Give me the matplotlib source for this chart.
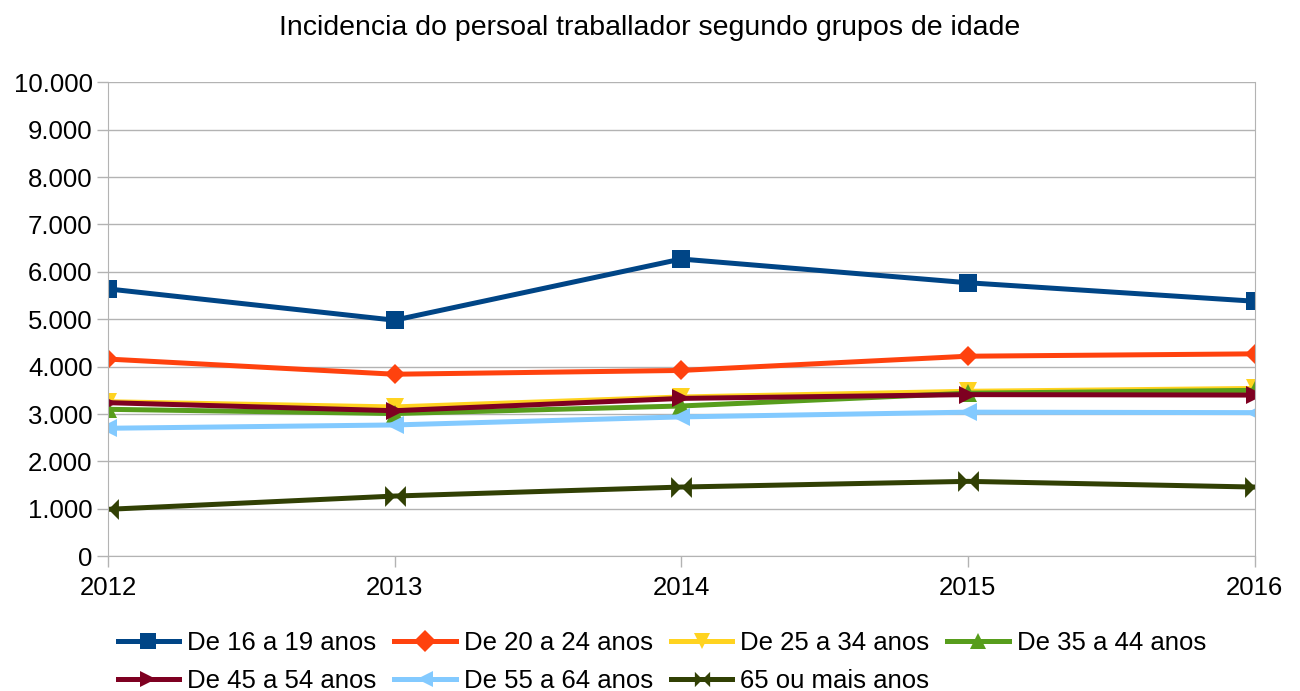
import matplotlib
matplotlib.use("Agg")
import matplotlib.pyplot as plt
from matplotlib.path import Path
from matplotlib.ticker import FuncFormatter, MultipleLocator

plt.rcParams['font.family'] = ['Liberation Sans', 'DejaVu Sans']

years = [2012, 2013, 2014, 2015, 2016]
labels = ["De 16 a 19 anos", "De 20 a 24 anos", "De 25 a 34 anos", "De 35 a 44 anos",
          "De 45 a 54 anos", "De 55 a 64 anos", "65 ou mais anos"]
s16_19 = [5640, 4980, 6270, 5770, 5380]
s20_24 = [4160, 3840, 3920, 4220, 4270]
s25_34 = [3260, 3150, 3360, 3480, 3540]
s35_44 = [3100, 3010, 3170, 3440, 3500]
s45_54 = [3240, 3070, 3330, 3410, 3400]
s55_64 = [2700, 2770, 2940, 3040, 3030]
s65 = [990, 1270, 1460, 1580, 1460]
series = [s16_19, s20_24, s25_34, s35_44, s45_54, s55_64, s65]

colors = ["#004586", "#ff420e", "#ffd320", "#579d1c", "#7e0021", "#83caff", "#314004"]
bowtie = Path([(-1, -1), (0, 0), (-1, 1), (-1, -1), (1, -1), (0, 0), (1, 1), (1, -1)],
              [Path.MOVETO, Path.LINETO, Path.LINETO, Path.CLOSEPOLY,
               Path.MOVETO, Path.LINETO, Path.LINETO, Path.CLOSEPOLY])
markers = ["s", "D", "v", "^", ">", "<", bowtie]
msizes = [13, 10, 13, 13, 13, 13, 15]

fig = plt.figure(figsize=(13, 6.91), dpi=100)
ax = fig.add_axes([0.083, 0.195, 0.882, 0.686])

handles = []
for vals, lab, c, m, ms in zip(series, labels, colors, markers, msizes):
    h, = ax.plot(years, vals, color=c, lw=3.6, marker=m, markersize=ms, label=lab,
                 markeredgewidth=0, solid_joinstyle='miter')
    handles.append(h)

ax.set_xlim(2012, 2016)
ax.set_ylim(0, 10000)
ax.yaxis.set_major_locator(MultipleLocator(1000))
ax.set_xticks(years)
ax.yaxis.set_major_formatter(FuncFormatter(lambda v, p: f"{int(v):,}".replace(",", ".")))
ax.grid(axis='y', color='#b3b3b3', lw=1)
ax.set_axisbelow(True)
for side in ['left', 'right', 'bottom']:
    ax.spines[side].set_color('#b3b3b3')
ax.spines['top'].set_visible(False)
ax.tick_params(axis='both', labelsize=18.5, color='#b3b3b3', length=8, width=1)
ax.tick_params(axis='y', pad=3)
ax.tick_params(axis='x', pad=6)

fig.text(0.5, 1 - 28 / 691, "Incidencia do persoal traballador segundo grupos de idade",
         fontsize=20.5, ha='center', va='center')

order = [0, 4, 1, 5, 2, 6, 3]
leg = fig.legend([handles[i] for i in order], [labels[i] for i in order],
                 loc='lower center', bbox_to_anchor=(0.509, -0.01), ncol=4, frameon=False,
                 fontsize=18.5, handlelength=2.4, columnspacing=0.7, handletextpad=0.3,
                 labelspacing=0.55, borderpad=0.2, borderaxespad=0)
for lh in leg.legend_handles:
    lh.set_markersize(11)
fig.savefig("out.png", dpi=100)
